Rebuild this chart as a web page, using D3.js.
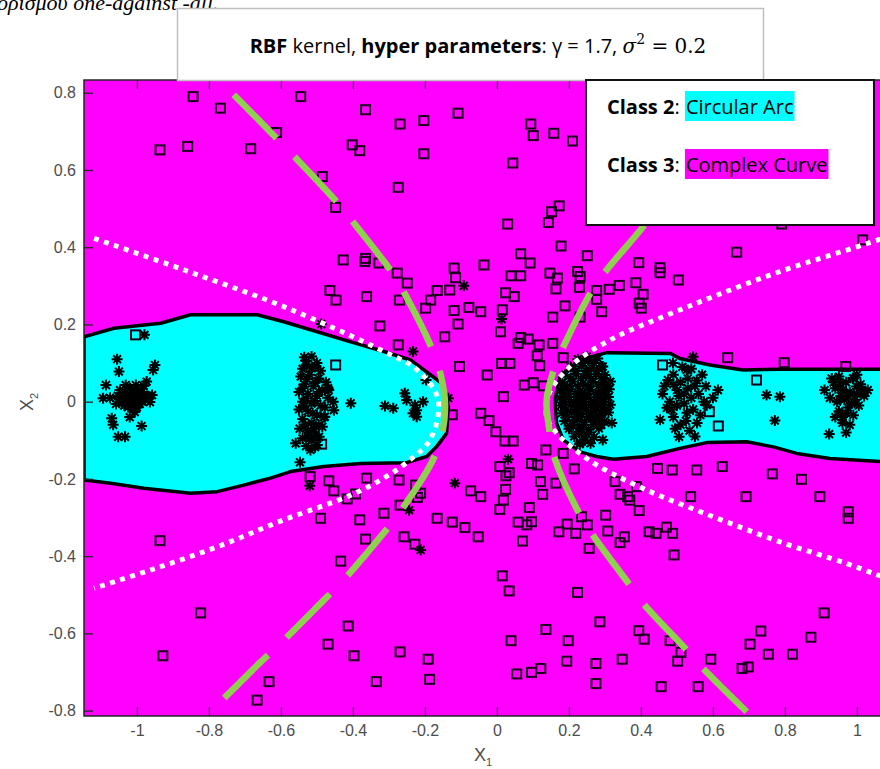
<!DOCTYPE html>
<html>
<head>
<meta charset="utf-8">
<script src="https://cdn.jsdelivr.net/npm/d3@7/dist/d3.min.js"></script>
<style>
body { margin: 0; background: #fff; }
svg { display: block; }
text { white-space: pre; }
</style>
</head>
<body>
<svg width="880" height="769"></svg>
<script>
var xTicks = [-1, -0.8, -0.6, -0.4, -0.2, 0, 0.2, 0.4, 0.6, 0.8, 1];
var yTicks = [-0.8, -0.6, -0.4, -0.2, 0, 0.2, 0.4, 0.6, 0.8];

// class 3 points (squares)
var class3 = [
[-0.844,0.790],[-0.768,0.760],[-0.545,0.790],[-0.936,0.652],[-0.859,0.661],[-0.684,0.655],[-0.612,0.697],[-0.365,0.756],[-0.269,0.719],[-0.203,0.728],[-0.108,0.747],[-0.402,0.665],[-0.381,0.650],[-0.203,0.642],[-0.485,0.583],[-0.274,0.555],[-0.448,0.503],[-0.427,0.367],[-0.365,0.371],[-0.367,0.363],[-0.328,0.359],[-0.277,0.333],[-0.249,0.307],[-0.464,0.288],[-0.447,0.263],[-0.362,0.272],[-0.271,0.263],[-0.119,0.346],[-0.115,0.321],[-0.131,0.289],[-0.166,0.288],[-0.184,0.263],[-0.198,0.242],[-0.119,0.236],[-0.078,0.244],[-0.045,0.233],[-0.036,0.354],[-0.108,0.201],[-0.325,0.196],[-0.145,0.168],[-0.274,0.147],[-0.104,0.091],[-0.448,0.095],[-1.004,0.173],
[0.094,0.719],[0.101,0.689],[0.158,0.695],[0.210,0.675],[0.044,0.618],[0.173,0.507],[0.152,0.492],[0.143,0.464],[0.030,0.460],[0.178,0.403],[0.066,0.383],[0.092,0.359],[0.251,0.378],[0.039,0.326],[0.066,0.326],[0.147,0.333],[0.168,0.320],[0.224,0.337],[0.231,0.324],[0.164,0.292],[0.229,0.296],[0.024,0.282],[0.048,0.272],[0.277,0.288],[0.277,0.265],[0.312,0.291],[0.340,0.301],[0.394,0.360],[0.453,0.347],[0.453,0.334],[0.504,0.315],[0.666,0.387],[0.386,0.308],[0.406,0.278],[0.395,0.255],[0.401,0.242],[0.189,0.248],[0.015,0.238],[0.155,0.219],[0.231,0.219],[0.291,0.233],[0.010,0.181],[0.066,0.166],[0.087,0.162],[0.059,0.151],[0.117,0.147],[0.155,0.151],[0.112,0.119],[0.119,0.093],[0.013,0.099],[0.036,0.099],[-0.027,0.069],[0.076,0.043],[0.101,0.049],[0.129,0.041],[0.018,0.013],[0.184,0.114],[0.460,0.095],[0.641,0.114],[0.798,0.101],[0.969,0.091],[0.721,0.056],[1.016,0.419],[0.791,0.460],
[-0.124,-0.034],[-0.045,-0.030],[-0.487,-0.110],[-0.519,-0.194],[-0.467,-0.205],[-0.453,-0.231],[-0.362,-0.198],[-0.272,-0.203],[-0.226,-0.216],[-0.212,-0.237],[-0.221,-0.248],[-0.393,-0.239],[-0.416,-0.252],[-0.490,-0.302],[-0.381,-0.306],[-0.314,-0.289],[-0.269,-0.268],[-0.258,-0.350],[-0.228,-0.369],[-0.365,-0.356],[-0.434,-0.413],[-0.936,-0.360],[-0.166,-0.302],[-0.124,-0.312],[-0.089,-0.326],[-0.052,-0.350],[-0.073,-0.231],[-0.045,-0.246],[-0.823,-0.547],[-0.413,-0.581],[-0.469,-0.628],[-0.397,-0.658],[-0.269,-0.648],[-0.191,-0.667],[-0.187,-0.719],[-0.335,-0.725],[-0.633,-0.725],[-0.666,-0.773],[-0.928,-0.658],
[-0.022,-0.049],[-0.003,-0.078],[0.022,-0.102],[0.045,-0.102],[0.136,-0.125],[0.184,-0.134],[0.096,-0.160],[0.113,-0.164],[0.008,-0.168],[0.034,-0.184],[0.025,-0.192],[0.215,-0.174],[0.121,-0.207],[0.164,-0.211],[0.024,-0.227],[0.127,-0.240],[0.018,-0.255],[0.008,-0.279],[0.090,-0.274],[0.059,-0.312],[0.083,-0.319],[0.096,-0.311],[0.071,-0.361],[0.172,-0.337],[0.195,-0.317],[0.219,-0.341],[0.235,-0.298],[0.251,-0.319],[0.302,-0.294],[0.308,-0.335],[0.256,-0.380],[0.342,-0.365],[0.354,-0.350],[0.328,-0.207],[0.342,-0.240],[0.363,-0.246],[0.369,-0.255],[0.395,-0.282],[0.388,-0.220],[0.446,-0.173],[0.487,-0.177],[0.555,-0.177],[0.626,-0.168],[0.538,-0.246],[0.692,-0.246],[0.765,-0.187],[0.846,-0.201],[0.897,-0.246],[0.976,-0.285],[0.976,-0.302],[0.423,-0.337],[0.442,-0.341],[0.471,-0.325],[0.488,-0.341],[0.492,-0.397],[0.590,-0.026],[0.615,-0.063],[0.015,-0.451],[0.034,-0.490],[0.224,-0.494],[0.286,-0.570],[0.136,-0.590],[0.039,-0.619],[0.198,-0.619],[0.394,-0.593],[0.409,-0.615],[0.481,-0.619],[0.194,-0.672],[0.275,-0.678],[0.348,-0.667],[0.502,-0.672],[0.511,-0.649],[0.594,-0.667],[0.055,-0.705],[0.096,-0.701],[0.122,-0.691],[0.275,-0.730],[0.456,-0.738],[0.559,-0.738],[0.681,-0.691],[0.698,-0.687],[0.703,-0.628],[0.733,-0.594],[0.754,-0.654],[0.821,-0.654],[0.872,-0.610],[0.909,-0.547]
];

// class 2 points (asterisks)
var class2 = [
[-0.092,0.300],[-0.488,0.201],[-0.233,0.130],[0.013,0.214],[-0.520,-0.218],[-0.117,-0.211],[-0.212,-0.384],[-0.244,-0.281],[0.031,-0.149],[-0.197,0.056],[-0.135,0.009],
[-1.055,0.110],[-1.050,0.078],[-1.086,0.043],[-0.950,0.095],[-0.955,0.082],[-0.973,0.052],[-1.094,0.009],[-1.070,-0.043],[-1.066,-0.060],[-1.052,-0.091],[-1.033,-0.091],[-0.987,-0.063],[-1.010,-0.022],[-0.979,0.173],
[-1.047,0.030],[-1.033,0.023],[-1.019,0.035],[-1.006,0.017],[-1.025,0.004],[-0.997,0.010],[-0.986,0.025],[-0.972,0.015],[-0.964,-0.001],[-1.042,-0.001],[-1.014,-0.009],[-0.992,-0.006],[-0.978,0.004],[-0.958,0.017],[-1.031,0.043],[-1.003,0.043],[-1.053,0.015],[-0.997,0.030],[-0.981,0.041],[-1.025,-0.014],[-1.006,-0.027],[-1.058,-0.006],[-1.075,0.010],
[-1.040,0.012],[-1.018,0.018],[-0.990,0.020],[-1.012,0.005],[-1.000,-0.015],[-1.035,-0.010],[-0.985,0.000],[-1.020,-0.040],
[-0.515,0.117],[-0.530,0.105],[-0.500,0.100],[-0.540,0.085],[-0.515,0.088],[-0.490,0.080],[-0.545,0.065],[-0.520,0.070],[-0.495,0.060],[-0.475,0.050],[-0.535,0.045],[-0.510,0.040],[-0.485,0.030],[-0.550,0.025],[-0.525,0.020],[-0.500,0.015],[-0.470,0.010],[-0.540,0.000],[-0.515,-0.005],[-0.490,-0.010],[-0.550,-0.020],[-0.525,-0.025],[-0.500,-0.035],[-0.480,-0.040],[-0.540,-0.045],[-0.515,-0.055],[-0.495,-0.060],[-0.548,-0.070],[-0.525,-0.075],[-0.505,-0.085],[-0.540,-0.095],[-0.515,-0.100],[-0.530,-0.115],[-0.505,-0.118],[-0.559,-0.108],[-0.494,-0.091],[-0.499,-0.112],[-0.469,0.035],[-0.455,0.000],[-0.478,-0.039],[-0.547,-0.157],[-0.467,0.030],
[-0.530,0.095],[-0.505,0.090],[-0.528,0.058],[-0.505,0.050],[-0.540,0.035],[-0.495,0.025],[-0.530,0.008],[-0.505,0.002],[-0.478,-0.015],[-0.535,-0.012],[-0.512,-0.030],[-0.532,-0.060],[-0.508,-0.070],[-0.485,-0.065],[-0.525,-0.090],[-0.518,-0.125],[-0.535,0.115],
[-0.311,-0.011],[-0.288,-0.017],[-0.256,0.022],[-0.251,0.004],[-0.228,-0.009],[-0.223,-0.039],[-0.223,-0.022],[-0.205,0.000],[-0.233,-0.030],[-0.406,-0.004],[-0.453,-0.022],
[0.225,0.110],[0.255,0.108],[0.280,0.112],[0.205,0.090],[0.235,0.092],[0.262,0.088],[0.290,0.091],[0.190,0.070],[0.220,0.072],[0.248,0.068],[0.275,0.071],[0.300,0.069],[0.182,0.050],[0.210,0.052],[0.240,0.048],[0.268,0.051],[0.295,0.049],[0.315,0.052],[0.178,0.030],[0.205,0.032],[0.232,0.028],[0.260,0.031],[0.288,0.029],[0.312,0.032],[0.175,0.010],[0.200,0.012],[0.228,0.008],[0.255,0.011],[0.283,0.009],[0.310,0.012],[0.178,-0.010],[0.205,-0.008],[0.233,-0.012],[0.260,-0.009],[0.288,-0.011],[0.315,-0.008],[0.180,-0.030],[0.208,-0.028],[0.236,-0.032],[0.264,-0.029],[0.292,-0.031],[0.310,-0.028],[0.188,-0.050],[0.215,-0.048],[0.243,-0.052],[0.270,-0.049],[0.298,-0.051],[0.200,-0.070],[0.228,-0.068],[0.255,-0.072],[0.283,-0.069],[0.215,-0.090],[0.242,-0.088],[0.270,-0.092],[0.230,-0.110],[0.260,-0.108],
[0.240,0.100],[0.270,0.100],[0.218,0.080],[0.248,0.080],[0.278,0.080],[0.205,0.060],[0.233,0.060],[0.262,0.060],[0.290,0.060],[0.195,0.040],[0.225,0.040],[0.253,0.040],[0.282,0.040],[0.305,0.040],[0.190,0.020],[0.218,0.020],[0.246,0.020],[0.274,0.020],[0.300,0.020],[0.188,0.000],[0.214,0.000],[0.242,0.000],[0.270,0.000],[0.297,0.000],[0.192,-0.020],[0.220,-0.020],[0.248,-0.020],[0.276,-0.020],[0.302,-0.020],[0.196,-0.040],[0.225,-0.040],[0.254,-0.040],[0.283,-0.040],[0.210,-0.060],[0.240,-0.060],[0.268,-0.060],[0.290,-0.060],[0.228,-0.080],[0.256,-0.080],[0.245,-0.100],
[0.249,0.117],[0.294,0.091],[0.231,-0.107],[0.294,-0.099],[0.319,-0.055],[0.203,-0.065],
[0.545,0.116],[0.527,0.082],[0.614,0.030],[0.489,0.100],[0.475,0.056],[0.506,-0.091],[0.556,-0.055],[0.453,-0.047],[0.583,-0.009],[0.472,-0.016],[0.528,-0.029],[0.490,0.070],[0.510,0.050],[0.530,0.060],[0.550,0.040],[0.570,0.070],[0.500,0.030],[0.520,0.020],[0.540,0.010],[0.560,0.020],[0.580,0.040],[0.460,0.020],[0.480,0.000],[0.500,-0.010],[0.520,-0.005],[0.545,-0.020],[0.565,-0.035],[0.490,-0.040],[0.510,-0.060],[0.535,-0.075],[0.600,0.010],[0.465,0.040],[0.515,0.090],[0.495,-0.070],[0.550,-0.090],
[0.505,0.015],[0.530,0.035],[0.555,0.055],[0.490,0.045],[0.525,-0.050],[0.575,0.000],[0.540,0.085],[0.485,-0.020],
[0.772,-0.049],[0.923,-0.084],[0.749,0.017],[0.786,0.013],
[0.930,0.060],[0.950,0.065],[0.970,0.050],[0.990,0.060],[1.010,0.045],[0.940,0.035],[0.960,0.030],[0.980,0.025],[1.000,0.020],[1.020,0.015],[0.925,0.010],[0.945,0.000],[0.965,0.005],[0.985,-0.005],[1.005,-0.010],[0.950,-0.025],[0.970,-0.030],[0.990,-0.035],[0.960,-0.055],[0.980,-0.060],[0.940,-0.040],[1.030,0.030],[0.910,0.030],[1.000,0.070],[0.970,-0.080],[0.989,0.061],[0.999,0.039],
[0.955,0.045],[0.975,0.015],[0.955,0.015],[0.995,0.005],[0.975,-0.015],[0.960,-0.040],[0.935,0.050],[1.015,0.030]
];

// cyan decision regions (boundary vertices)
var regionLeft = [
[-1.147,0.168],[-1.064,0.190],[-0.934,0.203],[-0.851,0.225],[-0.666,0.225],[-0.592,0.207],[-0.499,0.181],[-0.406,0.155],[-0.314,0.130],[-0.240,0.108],[-0.184,0.069],[-0.154,0.048],[-0.135,-0.013],[-0.140,-0.082],[-0.168,-0.117],[-0.195,-0.142],[-0.251,-0.158],[-0.379,-0.160],[-0.481,-0.168],[-0.573,-0.181],[-0.629,-0.198],[-0.703,-0.216],[-0.777,-0.233],[-0.851,-0.237],[-0.981,-0.224],[-1.073,-0.211],[-1.147,-0.203]
];
var regionRight = [
[1.120,0.084],[0.786,0.084],[0.684,0.082],[0.592,0.095],[0.508,0.112],[0.481,0.125],[0.305,0.127],[0.231,0.108],[0.198,0.082],[0.175,0.065],[0.161,0.004],[0.166,-0.056],[0.184,-0.099],[0.231,-0.130],[0.277,-0.142],[0.323,-0.149],[0.416,-0.142],[0.508,-0.121],[0.583,-0.106],[0.694,-0.104],[0.768,-0.117],[0.833,-0.134],[0.925,-0.147],[1.064,-0.155],[1.120,-0.156]
];

// green dashed curves
var greenLeft = [
[-0.731,0.795],[-0.612,0.682],[-0.559,0.631],[-0.442,0.514],[-0.397,0.462],[-0.291,0.334],[-0.254,0.276],[-0.180,0.136],[-0.156,0.069],[-0.144,-0.009],[-0.154,-0.091],[-0.180,-0.155],[-0.272,-0.289],[-0.319,-0.345],[-0.430,-0.466],[-0.481,-0.514],[-0.601,-0.626],[-0.656,-0.674],[-0.777,-0.786]
];
var greenRight = [
[0.694,-0.803],[0.573,-0.691],[0.527,-0.643],[0.406,-0.522],[0.365,-0.470],[0.263,-0.341],[0.226,-0.285],[0.156,-0.134],[0.145,-0.069],[0.138,0.004],[0.161,0.091],[0.189,0.151],[0.268,0.294],[0.309,0.346],[0.406,0.453],[0.564,0.652],[0.689,0.795]
];

// white dotted curves
var whiteLeft = [
[-1.119,0.423],[-0.869,0.341],[-0.592,0.246],[-0.314,0.130],[-0.221,0.082],[-0.163,0.004],[-0.186,-0.099],[-0.242,-0.151],[-0.314,-0.198],[-0.406,-0.242],[-0.592,-0.306],[-0.777,-0.376],[-0.962,-0.436],[-1.119,-0.483]
];
var whiteRight = [
[1.120,0.440],[1.059,0.419],[0.786,0.337],[0.601,0.272],[0.462,0.220],[0.323,0.164],[0.203,0.091],[0.143,0.017],[0.138,-0.039],[0.166,-0.082],[0.212,-0.121],[0.277,-0.164],[0.416,-0.229],[0.601,-0.298],[0.786,-0.363],[0.971,-0.419],[1.059,-0.449],[1.120,-0.468]
];

var xMin = -1.147, xMax = 1.12, yMin = -0.814, yMax = 0.833;
var x = d3.scaleLinear().domain([xMin, xMax]).range([84, 84 + (xMax - xMin) * 360]);
var y = d3.scaleLinear().domain([yMin, yMax]).range([716, 80]);

var svg = d3.select("svg");
svg.append("rect").attr("width", 880).attr("height", 769).attr("fill", "#fff");

svg.append("clipPath").attr("id", "plotclip").append("rect")
    .attr("x", x(xMin)).attr("y", y(yMax))
    .attr("width", x(xMax) - x(xMin)).attr("height", y(yMin) - y(yMax));

var plot = svg.append("g").attr("clip-path", "url(#plotclip)");

plot.append("rect")
    .attr("x", x(xMin)).attr("y", y(yMax))
    .attr("width", x(xMax) - x(xMin)).attr("height", y(yMin) - y(yMax))
    .attr("fill", "#ff00ff");

var poly = d3.line().x(d => x(d[0])).y(d => y(d[1]));
[regionLeft, regionRight].forEach(r => {
    plot.append("path").attr("d", poly(r) + "Z")
        .attr("fill", "#00ffff").attr("stroke", "#000")
        .attr("stroke-width", 3.5).attr("stroke-linejoin", "round");
});

plot.selectAll(".sq").data(class3).enter().append("rect")
    .attr("class", "sq")
    .attr("x", d => x(d[0]) - 4.5).attr("y", d => y(d[1]) - 4.5)
    .attr("width", 9).attr("height", 9)
    .attr("fill", "none").attr("stroke", "#1a001a").attr("stroke-width", 2);

var star = "M-5.5,0H5.5M0,-5.5V5.5M-3.9,-3.9L3.9,3.9M-3.9,3.9L3.9,-3.9";
plot.selectAll(".st").data(class2).enter().append("path")
    .attr("class", "st")
    .attr("d", star)
    .attr("transform", d => "translate(" + x(d[0]) + "," + y(d[1]) + ")")
    .attr("fill", "none").attr("stroke", "#000").attr("stroke-width", 2);

var curve = d3.line().x(d => x(d[0])).y(d => y(d[1])).curve(d3.curveCatmullRom);
[whiteLeft, whiteRight].forEach(c => {
    plot.append("path").attr("d", curve(c))
        .attr("fill", "none").attr("stroke", "#fff")
        .attr("stroke-width", 5).attr("stroke-dasharray", "5,5.5");
});
[greenLeft, greenRight].forEach(c => {
    plot.append("path").attr("d", curve(c))
        .attr("fill", "none").attr("stroke", "#8fd14f")
        .attr("stroke-width", 6.5).attr("stroke-dasharray", "61,26");
});

// axes
var fmt = d => String(+d.toFixed(1));
var axB = svg.append("g").attr("transform", "translate(0," + y(yMin) + ")")
    .call(d3.axisBottom(x).tickValues(xTicks).tickSize(-9).tickPadding(9).tickFormat(fmt));
var axT = svg.append("g").attr("transform", "translate(0," + y(yMax) + ")")
    .call(d3.axisTop(x).tickValues(xTicks).tickSize(-9).tickFormat(""));
var axL = svg.append("g").attr("transform", "translate(" + x(xMin) + ",0)")
    .call(d3.axisLeft(y).tickValues(yTicks).tickSize(-9).tickPadding(8).tickFormat(fmt));
[axB, axT, axL].forEach(a => {
    a.select(".domain").remove();
    a.selectAll("line").attr("stroke", "#262626").attr("stroke-width", 1.3);
    a.selectAll("text").attr("fill", "#4d4d4d")
        .style("font-family", "'Liberation Sans', Arial, sans-serif").style("font-size", "16px");
});
svg.append("path")
    .attr("d", "M" + x(xMax) + "," + y(yMax) + "H" + x(xMin) + "V" + y(yMin) + "H" + x(xMax))
    .attr("fill", "none").attr("stroke", "#262626").attr("stroke-width", 1.5);

var lab = svg.append("text").attr("x", 474).attr("y", 761)
    .attr("fill", "#4d4d4d").style("font-family", "'Liberation Sans', Arial, sans-serif").style("font-size", "18px");
lab.append("tspan").text("X");
lab.append("tspan").attr("dy", 5).style("font-size", "11px").text("1");

var lab2 = svg.append("text").attr("transform", "translate(33,411) rotate(-90)")
    .attr("fill", "#4d4d4d").style("font-family", "'Liberation Sans', Arial, sans-serif").style("font-size", "18px");
lab2.append("tspan").text("X");
lab2.append("tspan").attr("dy", 5).style("font-size", "11px").text("2");

// text cut at the top of the page
svg.append("text").attr("x", -3).attr("y", 10)
    .style("font-family", "'Liberation Serif', serif").style("font-style", "italic").style("font-size", "22px")
    .attr("fill", "#000").text("ορισμού one-against -all.");

// title box
svg.append("rect").attr("x", 177.5).attr("y", 8.5).attr("width", 586).attr("height", 72)
    .attr("fill", "#fff").attr("stroke", "#bfbfbf").attr("stroke-width", 1.5);
var tt = svg.append("text").attr("x", 478).attr("y", 53).attr("text-anchor", "middle")
    .style("font-family", "'Open Sans', sans-serif").style("font-size", "20px").attr("fill", "#000");
tt.append("tspan").style("font-weight", "bold").text("RBF");
tt.append("tspan").text(" kernel, ");
tt.append("tspan").style("font-weight", "bold").text("hyper parameters");
tt.append("tspan").text(": γ = 1.7, ");
tt.append("tspan").style("font-family", "'DejaVu Serif', serif").style("font-style", "italic").text("σ");
tt.append("tspan").attr("dy", -9).style("font-family", "'DejaVu Serif', serif").style("font-size", "14px").text("2");
tt.append("tspan").attr("dy", 9).style("font-family", "'DejaVu Serif', serif").text(" = 0.2");

// legend
svg.append("rect").attr("x", 586).attr("y", 80).attr("width", 288).attr("height", 145)
    .attr("fill", "#fff").attr("stroke", "#111").attr("stroke-width", 2);

function legendRow(cls, name, color, base, top) {
    var t = svg.append("text").attr("x", 607).attr("y", base)
        .style("font-family", "'Open Sans', sans-serif").style("font-size", "20px").attr("fill", "#000");
    t.append("tspan").style("font-weight", "bold").text(cls);
    t.append("tspan").text(": ");
    var w = t.node().getComputedTextLength();
    var hl = svg.append("rect");
    var t2 = svg.append("text").attr("x", 607 + w + 1).attr("y", base)
        .style("font-family", "'Open Sans', sans-serif").style("font-size", "20px").attr("fill", "#000").text(name);
    var bw = t2.node().getComputedTextLength();
    hl.attr("x", 607 + w).attr("y", top).attr("width", bw + 2).attr("height", 30).attr("fill", color);
}
legendRow("Class 2", "Circular Arc", "#00ffff", 114, 91);
legendRow("Class 3", "Complex Curve", "#ff00ff", 172, 149);
</script>
</body>
</html>
